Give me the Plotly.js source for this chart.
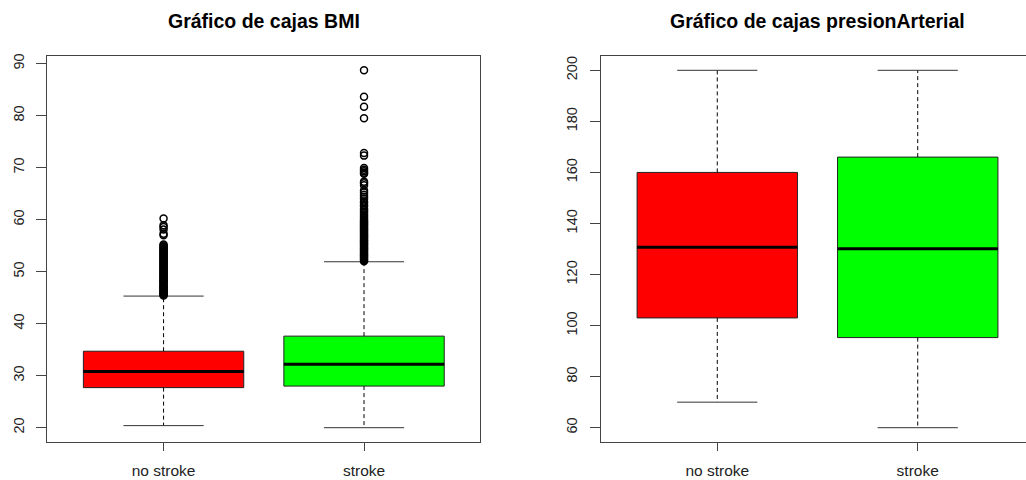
<!DOCTYPE html>
<html>
<head>
<meta charset="utf-8">
<script src="https://cdn.plot.ly/plotly-3.0.1.min.js"></script>
<style>
html,body{margin:0;padding:0;overflow:hidden;background:#fff;}
#chart{width:1040px;height:480px;}
</style>
</head>
<body>
<div id="chart"></div>
<script>
// ---- data ----
const categories = ['no stroke', 'stroke'];
const titles = ['Gráfico de cajas BMI', 'Gráfico de cajas presionArterial'];

const bmiLow  = [20.4, 20.0];
const bmiQ1   = [27.7, 28.0];
const bmiMed  = [30.8, 32.2];
const bmiQ3   = [34.7, 37.6];
const bmiHigh = [45.3, 51.9];

const bmiOutNoStroke = [45.4, 45.5, 45.7, 45.9, 46.1, 46.2, 46.4, 46.6, 46.8, 47.0, 47.1, 47.3, 47.5, 47.7, 47.9,
  48.1, 48.3, 48.4, 48.6, 48.8, 49.0, 49.2, 49.4, 49.6, 49.8, 50.0, 50.2, 50.4, 50.6, 50.8, 51.0, 51.2,
  51.4, 51.6, 51.8, 52.0, 52.2, 52.4, 52.6, 52.8, 53.0, 53.2, 53.4, 53.6, 53.8, 54.0, 54.2, 54.4, 54.6,
  54.8, 55.0, 55.2, 57.0, 57.3, 58.1, 58.6, 58.9, 60.2];

const bmiOutStroke = [52.0, 52.2, 52.4, 52.6, 52.8, 53.0, 53.2, 53.4, 53.6, 53.8, 54.0, 54.2, 54.4, 54.6, 54.8,
  55.0, 55.2, 55.4, 55.6, 55.8, 56.0, 56.2, 56.4, 56.6, 56.8, 57.0, 57.2, 57.4, 57.6, 57.8, 58.0, 58.2,
  58.4, 58.6, 58.8, 59.0, 59.2, 59.4, 59.6, 59.8, 60.0, 60.3, 60.6, 60.9, 61.2, 61.5, 61.8, 62.1, 62.5,
  62.8, 63.2, 63.5, 64.0, 64.4, 64.8, 65.2, 65.6, 66.6, 67.0, 67.3, 68.8, 69.0, 69.3, 69.6, 69.9,
  72.3, 72.8, 79.5, 81.7, 83.6, 88.7];

const bpLow  = [70, 60];
const bpQ1   = [103.0, 95.3];
const bpMed  = [130.7, 130.1];
const bpQ3   = [160.0, 166.0];
const bpHigh = [200, 200];
const bpOutNoStroke = [];
const bpOutStroke = [];

// ---- styles ----
const fills = ['#FF0000', '#00FF00'];
const BOXW = 0.8, CAPW = 0.4;
const FONT = 'Liberation Sans, Arial, sans-serif';

function panel(low, q1, med, q3, high, outs, xa, ya) {
  const traces = [];
  const pos = categories.map((c, i) => i + 1);
  categories.forEach((c, i) => {
    traces.push({
      type: 'box', xaxis: xa, yaxis: ya,
      x: [pos[i]], q1: [q1[i]], median: [med[i]], q3: [q3[i]],
      lowerfence: [q1[i]], upperfence: [q3[i]],
      width: BOXW, whiskerwidth: 0,
      fillcolor: fills[i], line: {color: '#222', width: 1},
      boxpoints: false, hoverinfo: 'skip', showlegend: false
    });
  });
  // whiskers (dashed)
  const wx = [], wy = [];
  pos.forEach((p, i) => {
    wx.push(p, p, null, p, p, null);
    wy.push(q3[i], high[i], null, q1[i], low[i], null);
  });
  traces.push({type: 'scatter', mode: 'lines', xaxis: xa, yaxis: ya, x: wx, y: wy,
    line: {color: '#000', width: 1, dash: '4px,3px'}, hoverinfo: 'skip', showlegend: false});
  // caps
  const cx = [], cy = [];
  pos.forEach((p, i) => {
    cx.push(p - CAPW / 2, p + CAPW / 2, null, p - CAPW / 2, p + CAPW / 2, null);
    cy.push(high[i], high[i], null, low[i], low[i], null);
  });
  traces.push({type: 'scatter', mode: 'lines', xaxis: xa, yaxis: ya, x: cx, y: cy,
    line: {color: '#333', width: 1}, hoverinfo: 'skip', showlegend: false});
  // medians
  const mx = [], my = [];
  pos.forEach((p, i) => {
    mx.push(p - BOXW / 2, p + BOXW / 2, null);
    my.push(med[i], med[i], null);
  });
  traces.push({type: 'scatter', mode: 'lines', xaxis: xa, yaxis: ya, x: mx, y: my,
    line: {color: '#000', width: 3}, hoverinfo: 'skip', showlegend: false});
  // outliers
  outs.forEach((o, i) => {
    if (!o.length) return;
    traces.push({type: 'scatter', mode: 'markers', xaxis: xa, yaxis: ya,
      x: o.map(() => pos[i]), y: o,
      marker: {symbol: 'circle-open', size: 7, color: '#000', line: {width: 1.5}},
      hoverinfo: 'skip', showlegend: false});
  });
  return traces;
}

const data = [].concat(
  panel(bmiLow, bmiQ1, bmiMed, bmiQ3, bmiHigh, [bmiOutNoStroke, bmiOutStroke], 'x', 'y'),
  panel(bpLow, bpQ1, bpMed, bpQ3, bpHigh, [bpOutNoStroke, bpOutStroke], 'x2', 'y2')
);

function xaxisDef(dom) {
  return {domain: dom, range: [0.42, 2.58], tickmode: 'array', tickvals: [1, 2], ticktext: categories,
    showline: true, mirror: true, linecolor: '#444', linewidth: 1, ticks: 'outside', ticklen: 8,
    tickcolor: '#444', tickwidth: 1, showgrid: false, zeroline: false, fixedrange: true,
    ticklabelstandoff: 6,
    tickfont: {family: FONT, size: 15.5, color: '#222'}};
}
function yaxisDef(range, dtick, anchor) {
  return {domain: [38 / 480, 424 / 480], range: range, tick0: 0, dtick: dtick, anchor: anchor,
    showline: true, mirror: true, linecolor: '#444', linewidth: 1, ticks: 'outside', ticklen: 10,
    tickcolor: '#444', tickwidth: 1, showgrid: false, zeroline: false, fixedrange: true,
    ticklabelstandoff: 7,
    tickangle: -90, tickfont: {family: FONT, size: 14.5, color: '#222'}};
}

const W = 1040;
const layout = {
  width: W, height: 480,
  margin: {l: 0, r: 0, t: 0, b: 0},
  paper_bgcolor: '#fff', plot_bgcolor: '#fff',
  showlegend: false,
  xaxis: Object.assign(xaxisDef([47.3 / W, 480.3 / W]), {anchor: 'y'}),
  yaxis: yaxisDef([17.25, 91.45], 10, 'x'),
  xaxis2: Object.assign(xaxisDef([601 / W, 1034 / W]), {anchor: 'y2'}),
  yaxis2: yaxisDef([54.4, 205.6], 20, 'x2'),
  annotations: titles.map((t, i) => ({
    text: '<b>' + t + '</b>', xref: i === 0 ? 'x domain' : 'x2 domain', yref: 'paper',
    x: 0.5, y: 1 - 21 / 480, xanchor: 'center', yanchor: 'middle', showarrow: false,
    font: {family: FONT, size: 19.5, color: '#000'}
  }))
};

Plotly.newPlot('chart', data, layout, {staticPlot: true, displayModeBar: false});
</script>
</body>
</html>
